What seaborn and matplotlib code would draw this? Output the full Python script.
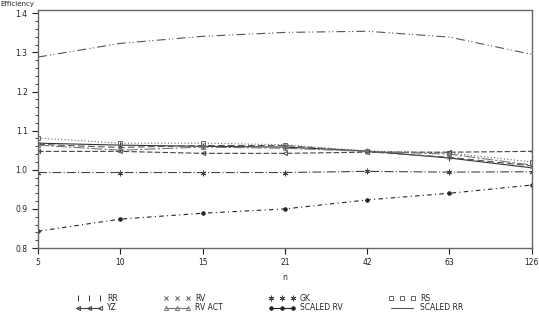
import matplotlib
matplotlib.use("Agg")
import matplotlib.pyplot as plt
from matplotlib.lines import Line2D
import seaborn as sns
import pandas as pd

n_labels = ["5", "10", "15", "21", "42", "63", "126"]

rr = [1.068, 1.063, 1.060, 1.058, 1.048, 1.030, 1.005]
rv = [1.065, 1.057, 1.062, 1.062, 1.046, 1.032, 1.010]
gk = [0.993, 0.993, 0.993, 0.993, 0.996, 0.994, 0.995]
rs = [1.081, 1.068, 1.068, 1.064, 1.048, 1.043, 1.020]
yz = [1.047, 1.047, 1.042, 1.042, 1.045, 1.045, 1.047]
rv_act = [1.063, 1.050, 1.058, 1.055, 1.047, 1.040, 1.012]
scaled_rv = [0.843, 0.874, 0.889, 0.900, 0.923, 0.940, 0.961]
scaled_rr = [1.288, 1.323, 1.341, 1.351, 1.354, 1.339, 1.295]

series = {
    "RR": rr, "RV": rv, "GK": gk, "RS": rs,
    "YZ": yz, "RV ACT": rv_act, "SCALED RV": scaled_rv, "SCALED RR": scaled_rr,
}

styles = {
    "RR": dict(marker="|", ls="-", color="#333333", dashes=None, ms=5, mfc="none"),
    "RV": dict(marker="x", ls="--", color="#555555", dashes=(6, 3), ms=3, mfc="none"),
    "GK": dict(marker=(6, 2, 0), ls="-.", color="#444444", dashes=(8, 2, 1, 2), ms=4, mfc="none"),
    "RS": dict(marker="s", ls=":", color="#666666", dashes=(1, 2), ms=3, mfc="none"),
    "YZ": dict(marker="<", ls="--", color="#444444", dashes=(5, 2), ms=3, mfc="none"),
    "RV ACT": dict(marker="^", ls="-.", color="#777777", dashes=(10, 2, 2, 2), ms=3, mfc="none"),
    "SCALED RV": dict(marker="o", ls="--", color="#222222", dashes=(4, 3, 1, 3), ms=2.5, mfc="#222222"),
    "SCALED RR": dict(marker=None, ls="-.", color="#555555", dashes=(8, 3, 1, 2, 1, 3), ms=0, mfc="none"),
}

rows = []
for name, vals in series.items():
    for i, (lab, v) in enumerate(zip(n_labels, vals)):
        rows.append(dict(series=name, pos=i, n=lab, value=v))
df = pd.DataFrame(rows)

sns.set_style("white")
plt.rcParams["font.family"] = ["DejaVu Sans"]

fig = plt.figure(figsize=(5.39, 3.16), dpi=100)
ax = fig.add_axes([0.0705, 0.215, 0.916, 0.753])

for name in series:
    st = styles[name]
    sub = df[df.series == name]
    sns.lineplot(data=sub, x="pos", y="value", ax=ax, color=st["color"], lw=0.8,
                 marker=st["marker"], markersize=st["ms"], markerfacecolor=st["mfc"],
                 markeredgecolor=st["color"], markeredgewidth=0.7, legend=False)
    ln = ax.lines[-1]
    if st["dashes"] is not None:
        ln.set_dashes(st["dashes"])

ax.set_xlim(0, 6)
ax.set_ylim(0.8, 1.408)
ax.set_xticks(range(len(n_labels)))
ax.set_xticklabels(n_labels)
ax.set_yticks([0.8, 0.9, 1.0, 1.1, 1.2, 1.3, 1.4])
ax.set_yticklabels(["0.8", "0.9", "1.0", "1.1", "1.2", "1.3", "1.4"])
ax.set_yticks([0.8 + 0.02 * k for k in range(31)], minor=True)
ax.tick_params(axis="both", which="major", direction="out", length=4, width=0.8,
               labelsize=5.5, colors="#222222", left=True, bottom=True)
ax.tick_params(axis="y", which="minor", direction="out", length=2, width=0.6, left=True)
for sp in ax.spines.values():
    sp.set_color("#666666")
    sp.set_linewidth(1.0)
ax.set_xlabel("n", fontsize=5.5, labelpad=4)
ax.set_ylabel("")
fig.text(0.0, 0.998, "Efficiency", fontsize=5, ha="left", va="top")

handles = []
order = ["RR", "YZ", "RV", "RV ACT", "GK", "SCALED RV", "RS", "SCALED RR"]
for name in order:
    st = styles[name]
    if name in ("RR", "RV", "GK", "RS"):
        h = Line2D([], [], ls="none", marker=st["marker"], ms=st["ms"], mfc=st["mfc"],
                   mec=st["color"], mew=0.7, color=st["color"])
    else:
        h = Line2D([], [], ls="-", lw=0.8, marker=st["marker"], ms=st["ms"], mfc=st["mfc"],
                   mec=st["color"], mew=0.7, color=st["color"])
    handles.append(h)
fig.legend(handles, order, loc="lower center", bbox_to_anchor=(0.5, -0.01), ncol=4,
           numpoints=3, frameon=False, fontsize=5.5, handlelength=3.5,
           columnspacing=6, labelspacing=0.1, handletextpad=0.6)

fig.savefig("out.png", dpi=100)
